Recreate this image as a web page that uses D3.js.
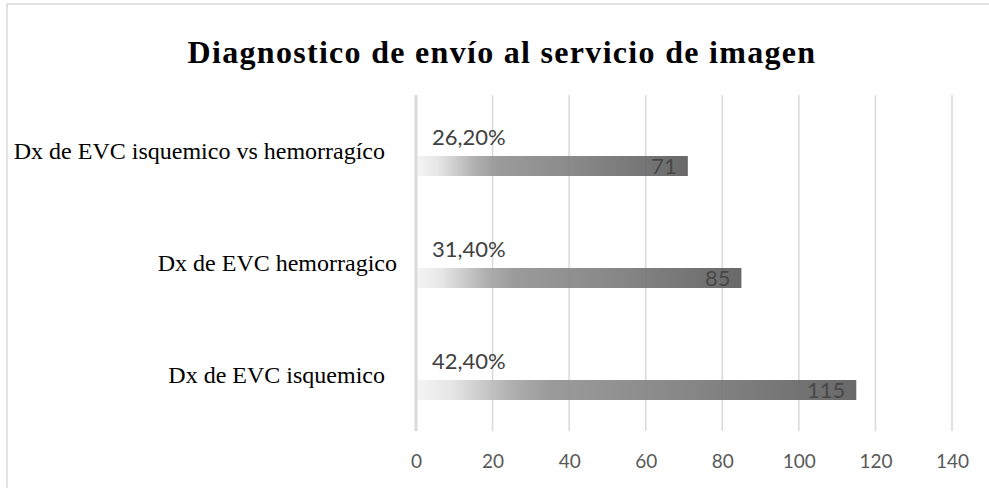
<!DOCTYPE html>
<html>
<head>
<meta charset="utf-8">
<script src="https://cdn.jsdelivr.net/npm/d3@7"></script>
<style>
  body { margin: 0; background: #fff; }
  svg { display: block; }
</style>
</head>
<body>
<svg id="chart" width="989" height="488"></svg>
<script>
const title = 'Diagnostico de envío al servicio de imagen';

// top to bottom, as drawn
const categories = [
    'Dx de EVC isquemico vs hemorragíco  ',
    'Dx de EVC hemorragico',
    'Dx de EVC isquemico  '
];
const counts = [71, 85, 115];
const percents = ['26,20%', '31,40%', '42,40%'];
const xTicks = [0, 20, 40, 60, 80, 100, 120, 140];

const svg = d3.select('#chart');

const margin = { top: 95, right: 37, bottom: 57, left: 416 };
const width = 989 - margin.left - margin.right;
const height = 488 - margin.top - margin.bottom;

// chart frame
svg.append('rect')
    .attr('x', 7)
    .attr('y', 4)
    .attr('width', 1000)
    .attr('height', 520)
    .attr('fill', 'none')
    .attr('stroke', '#d9d9d9')
    .attr('stroke-width', 1.5);

svg.append('text')
    .attr('x', 502)
    .attr('y', 63)
    .attr('text-anchor', 'middle')
    .attr('font-family', 'Liberation Serif')
    .attr('font-weight', 'bold')
    .attr('font-size', 32)
    .attr('letter-spacing', 1.3)
    .attr('fill', '#000')
    .text(title);

const defs = svg.append('defs');
const grad = defs.append('linearGradient')
    .attr('id', 'barGrad')
    .attr('x1', '0%').attr('x2', '100%')
    .attr('y1', '0%').attr('y2', '0%');
[
    [0, '#f4f4f4'],
    [0.08, '#e4e4e4'],
    [0.22, '#a8a8a8'],
    [0.3, '#939393'],
    [0.6, '#7e7e7e'],
    [1, '#5c5c5c']
].forEach(([o, c]) => grad.append('stop').attr('offset', o).attr('stop-color', c));

const g = svg.append('g')
    .attr('transform', `translate(${margin.left},${margin.top})`);

const x = d3.scaleLinear().domain([0, 140]).range([0, width]);
const y = d3.scaleBand().domain(categories).range([0, height]);
const sub = d3.scaleBand()
    .domain(['pct', 'count'])
    .range([32, 81])
    .paddingInner(0.31);

// gridlines
g.selectAll('.grid')
    .data(xTicks.slice(1))
    .enter()
    .append('line')
    .attr('x1', d => x(d))
    .attr('x2', d => x(d))
    .attr('y1', 0)
    .attr('y2', height)
    .attr('stroke', '#d9d9d9')
    .attr('stroke-width', 1.5);

// bars
g.selectAll('.bar')
    .data(categories)
    .enter()
    .append('rect')
    .attr('x', x(0))
    .attr('y', d => y(d) + sub('count'))
    .attr('width', (d, i) => x(counts[i]) - x(0))
    .attr('height', sub.bandwidth())
    .attr('fill', 'url(#barGrad)')
    .attr('fill-opacity', 0.92);

// vertical axis line
g.append('line')
    .attr('x1', 0).attr('x2', 0)
    .attr('y1', 0).attr('y2', height)
    .attr('stroke', '#d9d9d9')
    .attr('stroke-width', 3);

// count labels inside end
g.selectAll('.count')
    .data(categories)
    .enter()
    .append('text')
    .attr('x', (d, i) => x(counts[i]) - 11)
    .attr('y', d => y(d) + sub('count') + sub.bandwidth() / 2)
    .attr('dy', '0.36em')
    .attr('text-anchor', 'end')
    .attr('font-family', 'Lato')
    .attr('font-size', 22)
    .attr('fill', '#404040')
    .attr('fill-opacity', 0.85)
    .text((d, i) => counts[i]);

// percent labels
g.selectAll('.pct')
    .data(categories)
    .enter()
    .append('text')
    .attr('x', x(0) + 16)
    .attr('y', d => y(d) + sub('pct') + sub.bandwidth() / 2)
    .attr('dy', '0.36em')
    .attr('font-family', 'Lato')
    .attr('font-size', 22)
    .attr('fill', '#404040')
    .text((d, i) => percents[i]);

// category labels
g.selectAll('.cat')
    .data(categories)
    .enter()
    .append('text')
    .attr('x', -19)
    .attr('y', d => y(d) + y.bandwidth() / 2)
    .attr('dy', '0.32em')
    .attr('text-anchor', 'end')
    .attr('xml:space', 'preserve')
    .style('white-space', 'pre')
    .attr('font-family', 'Liberation Serif')
    .attr('font-size', 24)
    .attr('fill', '#000')
    .text(d => d);

// x axis tick labels
const xAxis = d3.axisBottom(x).tickValues(xTicks).tickSize(0).tickPadding(24);
const ax = g.append('g')
    .attr('transform', `translate(0,${height})`)
    .call(xAxis);
ax.select('.domain').remove();
ax.selectAll('text')
    .attr('font-family', 'Lato')
    .attr('font-size', 19)
    .attr('fill', '#595959');
</script>
</body>
</html>
